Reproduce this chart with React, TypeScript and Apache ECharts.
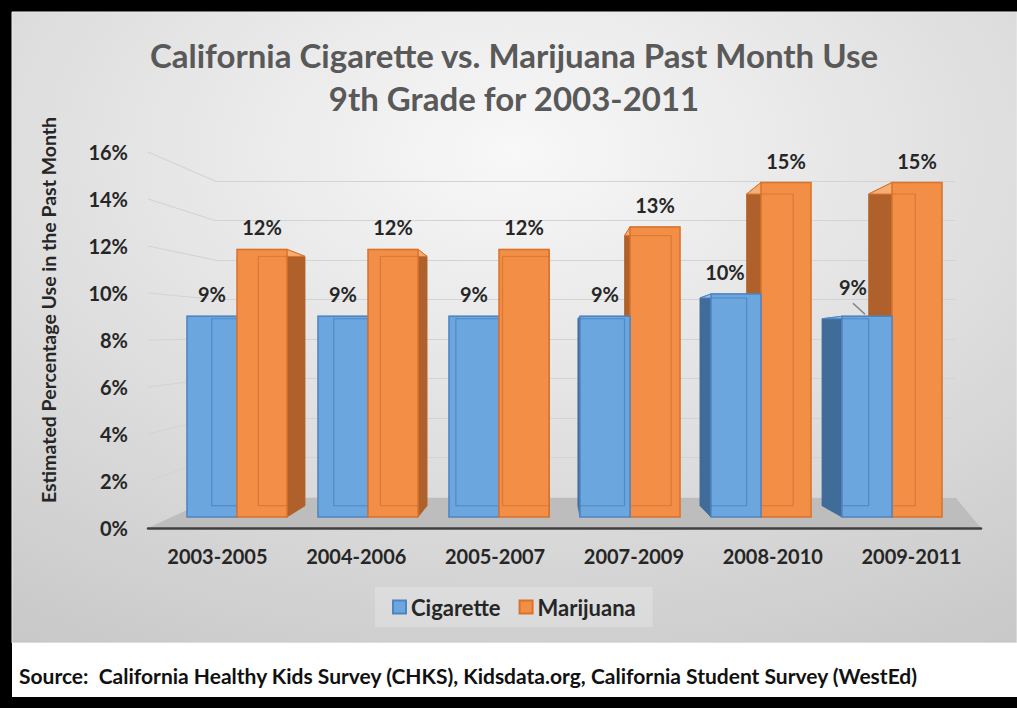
import React, { useEffect, useRef } from 'react';
import * as echarts from 'echarts';

const categories = ['2003-2005', '2004-2006', '2005-2007', '2007-2009', '2008-2010', '2009-2011'];
const cigarette = [9, 9, 9, 9, 10, 9];
const marijuana = [12, 12, 12, 13, 15, 15];
const seriesNames = ['Cigarette', 'Marijuana'];
const yTickValues = [0, 2, 4, 6, 8, 10, 12, 14, 16];
const titleLines = ['California Cigarette vs. Marijuana Past Month Use', '9th Grade for 2003-2011'];
const yAxisTitle = 'Estimated Percentage Use in the Past Month';
const sourceText = 'Source:  California Healthy Kids Survey (CHKS), Kidsdata.org, California Student Survey (WestEd)';

// label nudges (style only) for the cigarette labels
const cigLabelNudge = [[0, 0], [0, 0], [0, 0], [0, 0], [-11, 0], [-14, -7]];
const cigLeader = [false, false, false, false, false, true];

const FONT = 'Lato, "Open Sans", sans-serif';
const VX = 550;
const VY = 352;
const DEPTH = 0.0683;
const proj = (x: number, y: number) => [x + DEPTH * (VX - x), y + DEPTH * (VY - y)];

const palettes = [
  { front: '#6ca6de', stroke: '#4d84c2', side: '#3f6c99', top: '#94c0ea', inner: 'rgba(60,110,170,0.5)' },
  { front: '#f28e45', stroke: '#d8722c', side: '#b0612b', top: '#f8ad72', inner: 'rgba(200,100,35,0.5)' },
];

function makeRender(sIdx: number) {
  const pal = palettes[sIdx];
  return (params: any, api: any) => {
    const cat = api.value(0);
    const v = api.value(1);
    const base = api.coord([cat, 0]);
    const top = api.coord([cat, v]);
    const band = api.size([1, 0])[0];
    const w = band * 0.382;
    const x0 = sIdx === 0 ? base[0] - w : base[0];
    const x1 = x0 + w;
    const yB = base[1];
    const yT = top[1];
    const cx = (x0 + x1) / 2;
    const leftGroup = base[0] < VX;
    const zb = leftGroup ? (sIdx === 0 ? 0 : 10) : (sIdx === 0 ? 10 : 0);
    const xe = cx < VX ? x1 : x0;
    const children: any[] = [];
    children.push({
      type: 'polygon',
      z2: zb + 1,
      shape: { points: [[xe, yT], proj(xe, yT), proj(xe, yB), [xe, yB]] },
      style: { fill: pal.side, stroke: pal.side, lineWidth: 0.8 },
    });
    children.push({
      type: 'polygon',
      z2: zb + 2,
      shape: { points: [[x0, yT], [x1, yT], proj(x1, yT), proj(x0, yT)] },
      style: { fill: pal.top, stroke: pal.stroke, lineWidth: 1 },
    });
    children.push({
      type: 'rect',
      z2: zb + 3,
      shape: { x: x0, y: yT, width: w, height: yB - yT },
      style: { fill: pal.front, stroke: pal.stroke, lineWidth: 1.5 },
    });
    const bl = proj(x0, yB);
    const br = proj(x1, yB);
    const tl = proj(x0, yT);
    const tr = proj(x1, yT);
    if (tl[0] > x0 + 1 && tl[0] < x1 - 1) {
      children.push({ type: 'line', z2: zb + 4, shape: { x1: tl[0], y1: tl[1], x2: bl[0], y2: bl[1] }, style: { stroke: pal.inner, lineWidth: 1.2 } });
    }
    if (tr[0] > x0 + 1 && tr[0] < x1 - 1) {
      children.push({ type: 'line', z2: zb + 4, shape: { x1: tr[0], y1: tr[1], x2: br[0], y2: br[1] }, style: { stroke: pal.inner, lineWidth: 1.2 } });
    }
    const bx0 = Math.max(x0, bl[0]);
    const bx1 = Math.min(x1, br[0]);
    children.push({ type: 'line', z2: zb + 4, shape: { x1: bx0, y1: bl[1], x2: bx1, y2: br[1] }, style: { stroke: pal.inner, lineWidth: 1.2 } });
    const tx0 = Math.max(x0, tl[0]);
    const tx1 = Math.min(x1, tr[0]);
    children.push({ type: 'line', z2: zb + 4, shape: { x1: tx0, y1: tl[1], x2: tx1, y2: tr[1] }, style: { stroke: pal.inner, lineWidth: 1 } });

    const nudge = sIdx === 0 ? cigLabelNudge[params.dataIndex] : [0, 0];
    const lx = cx + nudge[0];
    const ly = yT - 22 + nudge[1];
    if (sIdx === 0 && cigLeader[params.dataIndex]) {
      children.push({ type: 'line', z2: 60, shape: { x1: lx, y1: ly + 16, x2: cx - 2, y2: yT - 2 }, style: { stroke: '#7f7f7f', lineWidth: 1.5 } });
    }
    children.push({
      type: 'text',
      z2: 60,
      style: {
        text: v + '%',
        x: lx,
        y: ly,
        textAlign: 'center',
        textVerticalAlign: 'middle',
        fill: '#262626',
        font: 'bold 20px ' + FONT,
      },
    });
    return { type: 'group', children };
  };
}

export default function App() {
  const ref = useRef<HTMLDivElement>(null);
  useEffect(() => {
    if (!ref.current) return;
    const chart = echarts.init(ref.current, null, { renderer: 'svg' });
    const labelText = { fontFamily: FONT, fontWeight: 'bold' as const, fontSize: 20, color: '#262626' };
    chart.setOption({
      animation: false,
      grid: [
        { left: 148, right: 36, top: 152, bottom: 180 },
        { left: 215, right: 62, top: 181, bottom: 211 },
        { left: 171.5, right: 59.5, top: 160.2, bottom: 191 },
      ],
      xAxis: [
        {
          type: 'category', gridIndex: 0, data: categories,
          axisLine: { show: true, lineStyle: { color: '#404040', width: 2.5 } },
          axisTick: { show: false },
          axisLabel: { ...labelText, margin: 18 },
        },
        { type: 'value', gridIndex: 1, min: 0, max: 1, show: false },
        { type: 'category', gridIndex: 2, data: categories, show: false },
        { type: 'value', gridIndex: 0, min: 0, max: 1, show: false, position: 'top' },
      ],
      yAxis: [
        {
          type: 'value', gridIndex: 0, min: yTickValues[0], max: yTickValues[yTickValues.length - 1], interval: 2,
          axisLine: { show: false }, axisTick: { show: false }, splitLine: { show: false },
          axisLabel: { ...labelText, margin: 20, formatter: '{value}%' },
        },
        {
          type: 'value', gridIndex: 1, min: 0, max: 16, interval: 2,
          axisLine: { show: false }, axisTick: { show: false }, axisLabel: { show: false },
          splitLine: { show: true, lineStyle: { color: '#d3d3d3', width: 1.2 } },
        },
        { type: 'value', gridIndex: 2, min: 0, max: 16, show: false, splitLine: { show: false } },
      ],
      legend: {
        data: seriesNames,
        left: 375,
        top: 587,
        icon: 'rect',
        itemWidth: 13,
        itemHeight: 13,
        itemGap: 18,
        padding: [9, 17],
        backgroundColor: 'rgba(255,255,255,0.22)',
        textStyle: { fontFamily: FONT, fontWeight: 'bold', fontSize: 22, color: '#262626' },
      },
      series: [
        {
          name: seriesNames[0], type: 'custom', xAxisIndex: 2, yAxisIndex: 2,
          itemStyle: { color: palettes[0].front, borderColor: palettes[0].stroke, borderWidth: 1 },
          renderItem: makeRender(0),
          data: cigarette.map((v, i) => [i, v]),
        },
        {
          name: seriesNames[1], type: 'custom', xAxisIndex: 2, yAxisIndex: 2,
          itemStyle: { color: palettes[1].front, borderColor: palettes[1].stroke, borderWidth: 1 },
          renderItem: makeRender(1),
          data: marijuana.map((v, i) => [i, v]),
        },
      ],
    });

    const front = (e: number, v: number) => chart.convertToPixel({ xAxisIndex: 3, yAxisIndex: 0 }, [e, v]) as number[];
    const back = (e: number, v: number) => chart.convertToPixel({ xAxisIndex: 1, yAxisIndex: 1 }, [e, v]) as number[];

    const graphics: any[] = [
      { type: 'rect', z: -20, shape: { x: 0, y: 0, width: 1017, height: 708 }, style: { fill: '#000000' } },
      {
        type: 'rect', z: -19, shape: { x: 12, y: 12, width: 1005, height: 631 },
        style: {
          fill: new echarts.graphic.RadialGradient(0.5, 0.22, 1.0, [
            { offset: 0, color: '#f8f8f8' },
            { offset: 1, color: '#c4c4c4' },
          ]),
          stroke: '#ececec', lineWidth: 1,
        },
      },
      { type: 'rect', z: -19, shape: { x: 12, y: 643, width: 1005, height: 54 }, style: { fill: '#ffffff' } },
      {
        type: 'polygon', z: -5,
        shape: { points: [front(0, 0), front(1, 0), back(1, 0), back(0, 0)] },
        style: { fill: '#bdbdbd' },
      },
    ];
    yTickValues.slice(1).forEach((v) => {
      const a = front(0, v);
      const b = back(0, v);
      graphics.push({ type: 'line', z: -4, shape: { x1: a[0], y1: a[1], x2: b[0], y2: b[1] }, style: { stroke: '#d3d3d3', lineWidth: 1.2 } });
    });
    graphics.push(
      { type: 'text', z: 10, x: 514, y: 55, style: { text: titleLines[0], x: 0, y: 0, textAlign: 'center', textVerticalAlign: 'middle', fill: '#595959', font: 'bold 33px ' + FONT } },
      { type: 'text', z: 10, x: 514, y: 98, style: { text: titleLines[1], x: 0, y: 0, textAlign: 'center', textVerticalAlign: 'middle', fill: '#595959', font: 'bold 33px ' + FONT } },
      { type: 'text', z: 10, x: 48, y: 310, rotation: Math.PI / 2, style: { text: yAxisTitle, x: 0, y: 0, textAlign: 'center', textVerticalAlign: 'middle', fill: '#262626', font: 'bold 19.5px ' + FONT } },
      { type: 'text', z: 10, x: 19, y: 675, style: { text: sourceText, x: 0, y: 0, textAlign: 'left', textVerticalAlign: 'middle', fill: '#111111', font: 'bold 21px ' + FONT } },
    );
    chart.setOption({ graphic: graphics });
    return () => chart.dispose();
  }, []);
  return <div ref={ref} style={{ position: 'absolute', left: 0, top: 0, width: 1017, height: 708 }} />;
}
